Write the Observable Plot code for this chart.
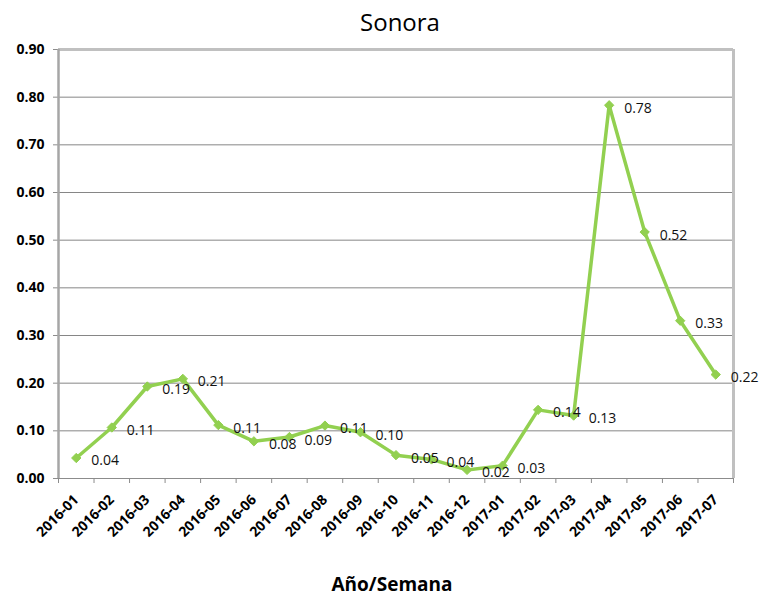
<!DOCTYPE html>
<html>
<head>
<meta charset="utf-8">
<script src="https://cdn.jsdelivr.net/npm/d3@7"></script>
<script src="https://cdn.jsdelivr.net/npm/@observablehq/plot@0.6"></script>
<style>
  html, body { margin: 0; padding: 0; background: #fff; }
  #chart { width: 761px; height: 595px; }
</style>
</head>
<body>
<div id="chart"></div>
<script>
const weeks = ["2016-01","2016-02","2016-03","2016-04","2016-05","2016-06","2016-07","2016-08","2016-09","2016-10","2016-11","2016-12","2017-01","2017-02","2017-03","2017-04","2017-05","2017-06","2017-07"];
const values = [0.043,0.107,0.193,0.209,0.112,0.078,0.087,0.111,0.097,0.049,0.040,0.018,0.027,0.144,0.132,0.783,0.517,0.331,0.218];
const yTicks = [0,0.1,0.2,0.3,0.4,0.5,0.6,0.7,0.8,0.9];
const gridTicks = [0.1,0.2,0.3,0.4,0.5,0.6,0.7,0.8];
const title = "Sonora";
const xTitle = "Año/Semana";

const data = weeks.map((w, i) => ({i, week: w, value: values[i]}));
const centers = weeks.map((w, i) => i);
const bounds = d3.range(weeks.length + 1).map(i => i - 0.5);
const green = "#92D050";

const chart = Plot.plot({
  width: 761,
  height: 595,
  marginLeft: 58,
  marginRight: 28,
  marginTop: 49,
  marginBottom: 117,
  style: {fontFamily: "'Open Sans', sans-serif", background: "#fff", overflow: "visible"},
  x: {type: "linear", domain: [-0.5, weeks.length - 0.5]},
  y: {domain: [0, 0.9]},
  marks: [
    Plot.gridY(gridTicks, {stroke: "#868686", strokeOpacity: 1, strokeWidth: 1}),
    Plot.ruleY([0.9], {stroke: "#c0c0c0", strokeWidth: 3}),
    Plot.ruleX([weeks.length - 0.5], {stroke: "#c0c0c0", strokeWidth: 3}),
    Plot.ruleY([0], {stroke: "#8c8c8c", strokeWidth: 1}),
    Plot.axisY(yTicks, {tickSize: 5, tickPadding: 9, tickFormat: d => d.toFixed(2), fontSize: 14, fontWeight: "bold", fill: "#000", stroke: "#8c8c8c", label: null}),
    Plot.ruleX([-0.5], {stroke: "#a6a6a6", strokeWidth: 2.5, y1: 0, y2: 0.9}),
    Plot.axisX(bounds, {tickSize: 5, tickFormat: () => "", stroke: "#8c8c8c", label: null}),
    Plot.axisX(centers, {tickSize: 0, tickPadding: 19, tickRotate: -45, tickFormat: i => weeks[i], fontSize: 14, fontWeight: "bold", fill: "#000", label: null}),
    Plot.line(data, {x: "i", y: "value", stroke: green, strokeWidth: 3.5, strokeLinejoin: "round"}),
    Plot.dot(data, {x: "i", y: "value", symbol: "diamond2", r: 4.2, fill: green, stroke: green, strokeWidth: 1}),
    Plot.text(data, {x: "i", y: "value", text: d => d.value.toFixed(2), dx: 15, dy: 3, textAnchor: "start", fontSize: 14, fill: "#111"}),
    Plot.text([title], {frameAnchor: "top", dy: -19, dx: 4, text: d => d, fontSize: 24, fill: "#000", lineAnchor: "bottom"}),
    Plot.text([xTitle], {frameAnchor: "bottom", dy: 112, dx: -4, text: d => d, fontSize: 19, fontWeight: "bold", fill: "#000", lineAnchor: "bottom", letterSpacing: "0.5px"})
  ]
});
document.getElementById("chart").appendChild(chart);
</script>
</body>
</html>
